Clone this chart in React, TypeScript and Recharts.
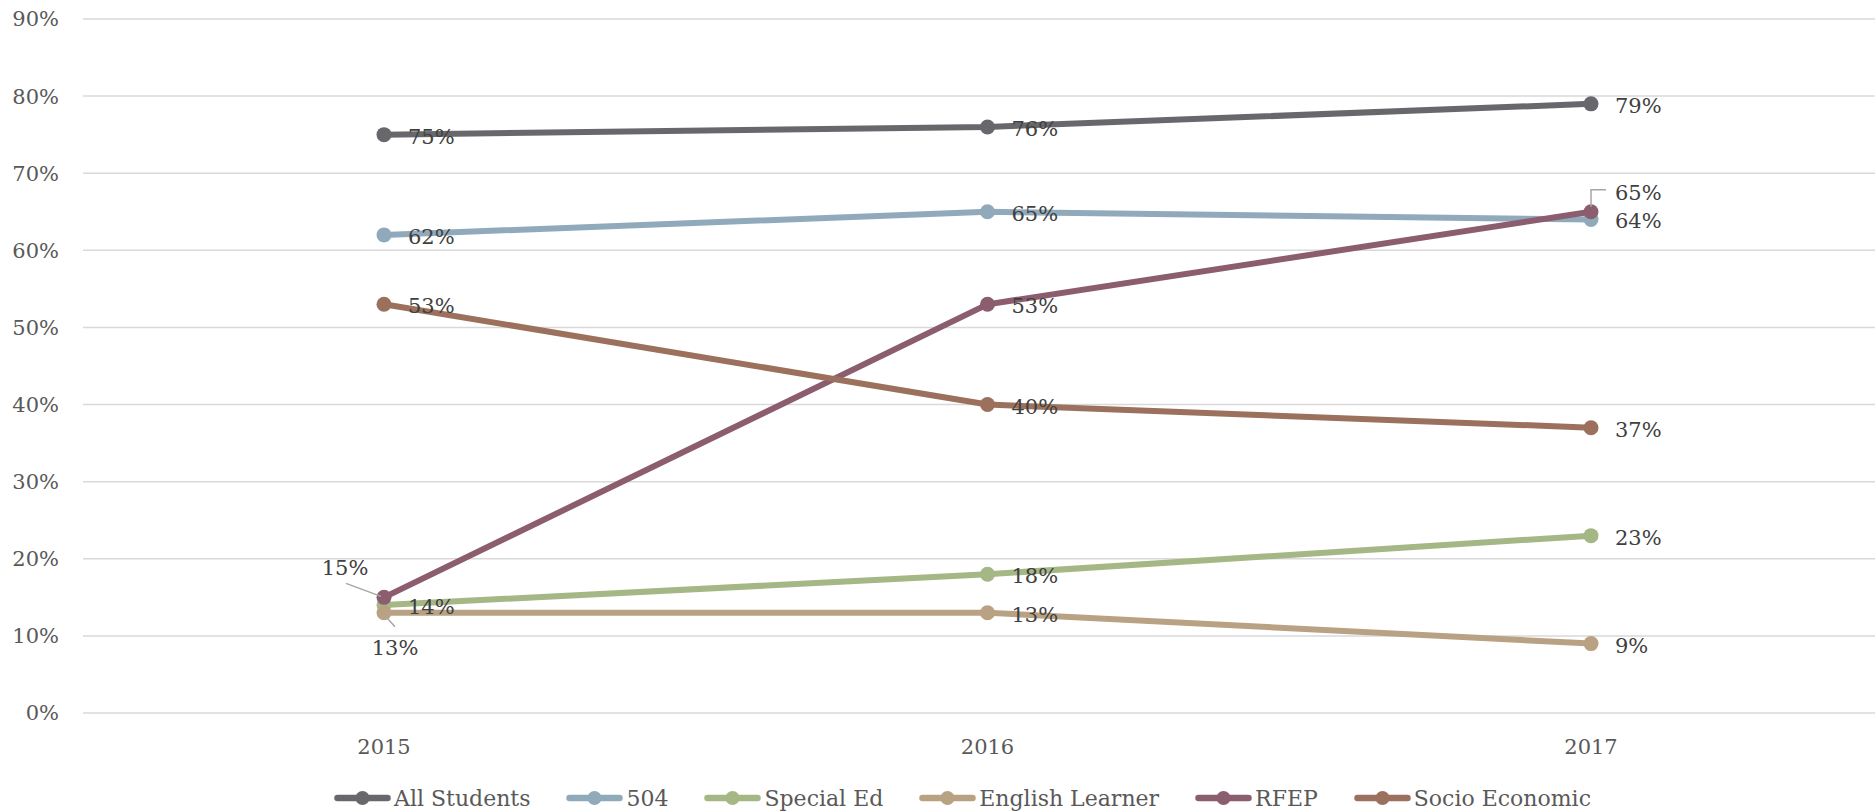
import React from "react";
import { LineChart, Line, XAxis, YAxis, CartesianGrid, LabelList } from "recharts";

const years = ["2015", "2016", "2017"];
const allStudents = [75, 76, 79];
const s504 = [62, 65, 64];
const specialEd = [14, 18, 23];
const englishLearner = [13, 13, 9];
const rfep = [15, 53, 65];
const socioEconomic = [53, 40, 37];
const yTicks = [0, 10, 20, 30, 40, 50, 60, 70, 80, 90];

const series = [
  { key: "all", name: "All Students", values: allStudents, color: "#68676c" },
  { key: "s504", name: "504", values: s504, color: "#90aabb" },
  { key: "sped", name: "Special Ed", values: specialEd, color: "#a4b785" },
  { key: "el", name: "English Learner", values: englishLearner, color: "#b9a283" },
  { key: "rfep", name: "RFEP", values: rfep, color: "#8b5d6f" },
  { key: "socio", name: "Socio Economic", values: socioEconomic, color: "#9b715e" },
];

const data = years.map((y, i) => {
  const row: any = { year: y };
  series.forEach((s) => (row[s.key] = s.values[i]));
  return row;
});

const FONT = "'DejaVu Serif', serif";
const LABEL_COLOR = "#404040";
const LEADER = "#a6a6a6";

function makeLabel(seriesKey: string) {
  return (props: any) => {
    const { x, y, value, index } = props;
    const txt = `${value}%`;
    if (seriesKey === "rfep" && index === 0) {
      return (
        <g>
          <line x1={x - 3} y1={y - 1} x2={x - 38} y2={y - 14} stroke={LEADER} strokeWidth={1.5} />
          <text x={x - 39} y={y - 29} textAnchor="middle" dominantBaseline="central" fontFamily={FONT} fontSize={21} fill={LABEL_COLOR}>{txt}</text>
        </g>
      );
    }
    if (seriesKey === "el" && index === 0) {
      return (
        <g>
          <line x1={x + 1} y1={y + 3} x2={x + 11} y2={y + 14} stroke={LEADER} strokeWidth={1.5} />
          <text x={x + 11} y={y + 35} textAnchor="middle" dominantBaseline="central" fontFamily={FONT} fontSize={21} fill={LABEL_COLOR}>{txt}</text>
        </g>
      );
    }
    if (seriesKey === "rfep" && index === 2) {
      return (
        <g>
          <polyline points={`${x},${y - 5} ${x},${y - 22} ${x + 15},${y - 22}`} fill="none" stroke={LEADER} strokeWidth={1.5} />
          <text x={x + 24} y={y - 19} textAnchor="start" dominantBaseline="central" fontFamily={FONT} fontSize={21} fill={LABEL_COLOR}>{txt}</text>
        </g>
      );
    }
    return (
      <text x={x + 24} y={y + 2} textAnchor="start" dominantBaseline="central" fontFamily={FONT} fontSize={21} fill={LABEL_COLOR}>{txt}</text>
    );
  };
}

function LegendBox() {
  return (
    <div
      style={{
        position: "absolute",
        left: 25,
        top: 784,
        width: 1875,
        height: 28,
        display: "flex",
        justifyContent: "center",
        alignItems: "center",
        fontFamily: FONT,
        fontSize: 22,
        color: "#595959",
      }}
    >
      {series.map((s, i) => (
        <div key={s.key} style={{ display: "flex", alignItems: "center", marginLeft: i === 0 ? 0 : 36 }}>
          <svg width={57} height={18} style={{ marginRight: 3 }}>
            <line x1={3.5} y1={9} x2={53.5} y2={9} stroke={s.color} strokeWidth={6.5} strokeLinecap="round" />
            <circle cx={28.5} cy={9} r={7} fill={s.color} />
          </svg>
          <span style={{ whiteSpace: "nowrap" }}>{s.name}</span>
        </div>
      ))}
    </div>
  );
}

export default function App() {
  return (
    <div style={{ position: "absolute", left: 0, top: 0, width: 1875, height: 812, overflow: "hidden", background: "#fff" }}>
      <LineChart width={1875} height={812} data={data} margin={{ top: 19, right: 0, bottom: 69, left: 0 }}>
        <CartesianGrid vertical={false} stroke="#d9d9d9" strokeWidth={1.5} />
        <XAxis
          dataKey="year"
          axisLine={false}
          tickLine={false}
          padding={{ left: 301, right: 284 }}
          tickMargin={20}
          height={30}
          tick={{ fontFamily: FONT, fontSize: 21, fill: "#595959" }}
        />
        <YAxis
          width={83}
          domain={[0, 90]}
          ticks={yTicks}
          axisLine={false}
          tickLine={false}
          tickMargin={18}
          tickFormatter={(v: number) => `${v}%`}
          tick={{ fontFamily: FONT, fontSize: 21, fill: "#595959" }}
        />
        {series.map((s) => (
          <Line
            key={s.key}
            dataKey={s.key}
            name={s.name}
            stroke={s.color}
            strokeWidth={6}
            dot={{ r: 7.5, fill: s.color, stroke: s.color, strokeWidth: 0 }}
            activeDot={false}
            isAnimationActive={false}
          >
            <LabelList dataKey={s.key} content={makeLabel(s.key)} />
          </Line>
        ))}
      </LineChart>
      <LegendBox />
    </div>
  );
}
